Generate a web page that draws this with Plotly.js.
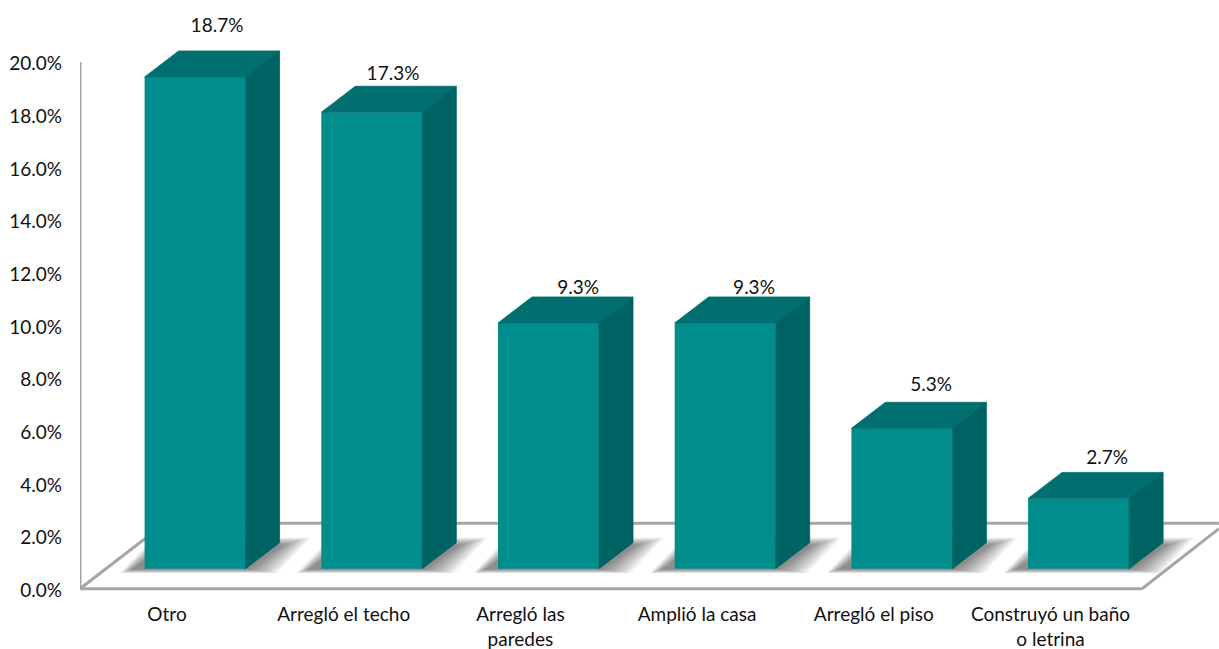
<!DOCTYPE html>
<html>
<head>
<meta charset="utf-8">
<script src="https://cdn.plot.ly/plotly-3.0.1.min.js"></script>
<style>html,body{margin:0;padding:0;background:#fff;overflow:hidden}</style>
</head>
<body>
<div id="chart" style="width:1219px;height:649px"></div>
<script>
// Data
var categories = ["Otro", "Arregló el techo", "Arregló las<br>paredes", "Amplió la casa", "Arregló el piso", "Construyó un baño<br>o letrina"];
var values = [18.67, 17.33, 9.33, 9.33, 5.33, 2.67];
var labelX = [0.283, 1.279, 2.326, 3.322, 4.324, 5.320];
var labelY = [21.33, 19.50, 11.38, 11.38, 7.70, 4.93];
var yTicks = [0, 2, 4, 6, 8, 10, 12, 14, 16, 18, 20];

// Pseudo-3D geometry, in axis units
var positions = categories.map(function (c, i) { return i; });
var barOffset = 0.159, barWidth = 0.5716, barBase = 0.76, depthX = 0.1924, depthY = 0.987;
var tickNudge = 0.06;
var FRONT = "#028d8d", TOP = "#016f6f", SIDE = "#006363", LINE = "#a6a6a6";

function poly(pts) {
  return "M" + pts.map(function (p) { return p[0] + "," + p[1]; }).join("L") + "Z";
}

var facesTop = {x: [], y: []}, facesSide = {x: [], y: []};
positions.forEach(function (p, i) {
  var l = p + barOffset - barWidth / 2, r = l + barWidth, t = barBase + values[i], b = barBase;
  facesTop.x.push(l, l + depthX, r + depthX, r, l, null);
  facesTop.y.push(t, t + depthY, t + depthY, t, t, null);
  facesSide.x.push(r, r + depthX, r + depthX, r, r, null);
  facesSide.y.push(t, t + depthY, b + depthY, b, t, null);
});

// Floor and axis lines, and soft shadows, live below the traces
var shapes = [];
function segment(x0, y0, x1, y1) {
  shapes.push({type: "line", layer: "below", xref: "x", yref: "y", x0: x0, y0: y0, x1: x1, y1: y1,
    line: {color: LINE, width: 3}});
}
var xMin = -0.4924, xMax = 5.9536, yMin = -0.2, yMax = 22.352;
segment(xMin, 0, xMin, 20);
segment(xMin, 0, 5.518, 0);
segment(xMin, 0, -0.011, 2.486);
segment(-0.011, 2.486, xMax, 2.486);
segment(5.518, 0, xMax, 2.28);

var layers = 16;
positions.forEach(function (p) {
  var l = p + barOffset - barWidth / 2, r = l + barWidth;
  for (var k = 0; k < layers; k++) {
    var f = k / (layers - 1);
    var grow = (1 - f);
    var left = l - 0.07 - 0.07 * grow;
    var right = r + 0.02 + 0.16 * grow;
    var bottom = barBase - 0.02 - 0.15 * grow;
    var top = barBase + depthY + 0.2 - 0.3 * f;
    var sk = 0.19;
    shapes.push({type: "path", layer: "below", xref: "x", yref: "y",
      path: poly([[left, bottom], [right, bottom], [right + sk, top], [left + sk, top]]),
      fillcolor: "rgba(30,30,30,0.04)", line: {width: 0}});
  }
});

var font = {family: "Lato, Carlito, Calibri, sans-serif", size: 19, color: "#111111"};

var traces = [
  {type: "bar", x: positions.map(function (p) { return p + barOffset; }), y: values,
    base: values.map(function () { return barBase; }), width: barWidth,
    marker: {color: FRONT, line: {width: 0}}, hoverinfo: "skip", showlegend: false},
  {type: "scatter", mode: "lines", x: facesTop.x, y: facesTop.y, fill: "toself", fillcolor: TOP,
    line: {width: 0.8, color: TOP}, hoverinfo: "skip", showlegend: false},
  {type: "scatter", mode: "lines", x: facesSide.x, y: facesSide.y, fill: "toself", fillcolor: SIDE,
    line: {width: 0.8, color: SIDE}, hoverinfo: "skip", showlegend: false},
  {type: "scatter", mode: "text", x: labelX, y: labelY,
    text: values.map(function (v) { return v.toFixed(1) + "%"; }),
    textposition: "middle center", textfont: font, cliponaxis: false,
    hoverinfo: "skip", showlegend: false}
];

var layout = {
  width: 1219, height: 649,
  margin: {l: 80, r: 0, t: 0, b: 54.73, pad: 0},
  paper_bgcolor: "#ffffff", plot_bgcolor: "#ffffff",
  showlegend: false, font: font, shapes: shapes,
  xaxis: {range: [xMin, xMax], tickmode: "array", tickvals: positions, ticktext: categories,
    showgrid: false, zeroline: false, showline: false, ticks: "", tickangle: 0, tickfont: font, ticklabelstandoff: 7},
  yaxis: {range: [yMin, yMax], tickmode: "array", tickvals: yTicks.map(function (v) { return v - tickNudge; }),
    ticktext: yTicks.map(function (v) { return v.toFixed(1) + "%"; }),
    showgrid: false, zeroline: false, showline: false, ticks: "", tickfont: font, ticklabelstandoff: 17}
};
Plotly.newPlot("chart", traces, layout, {displayModeBar: false, staticPlot: true});
</script>
</body>
</html>
